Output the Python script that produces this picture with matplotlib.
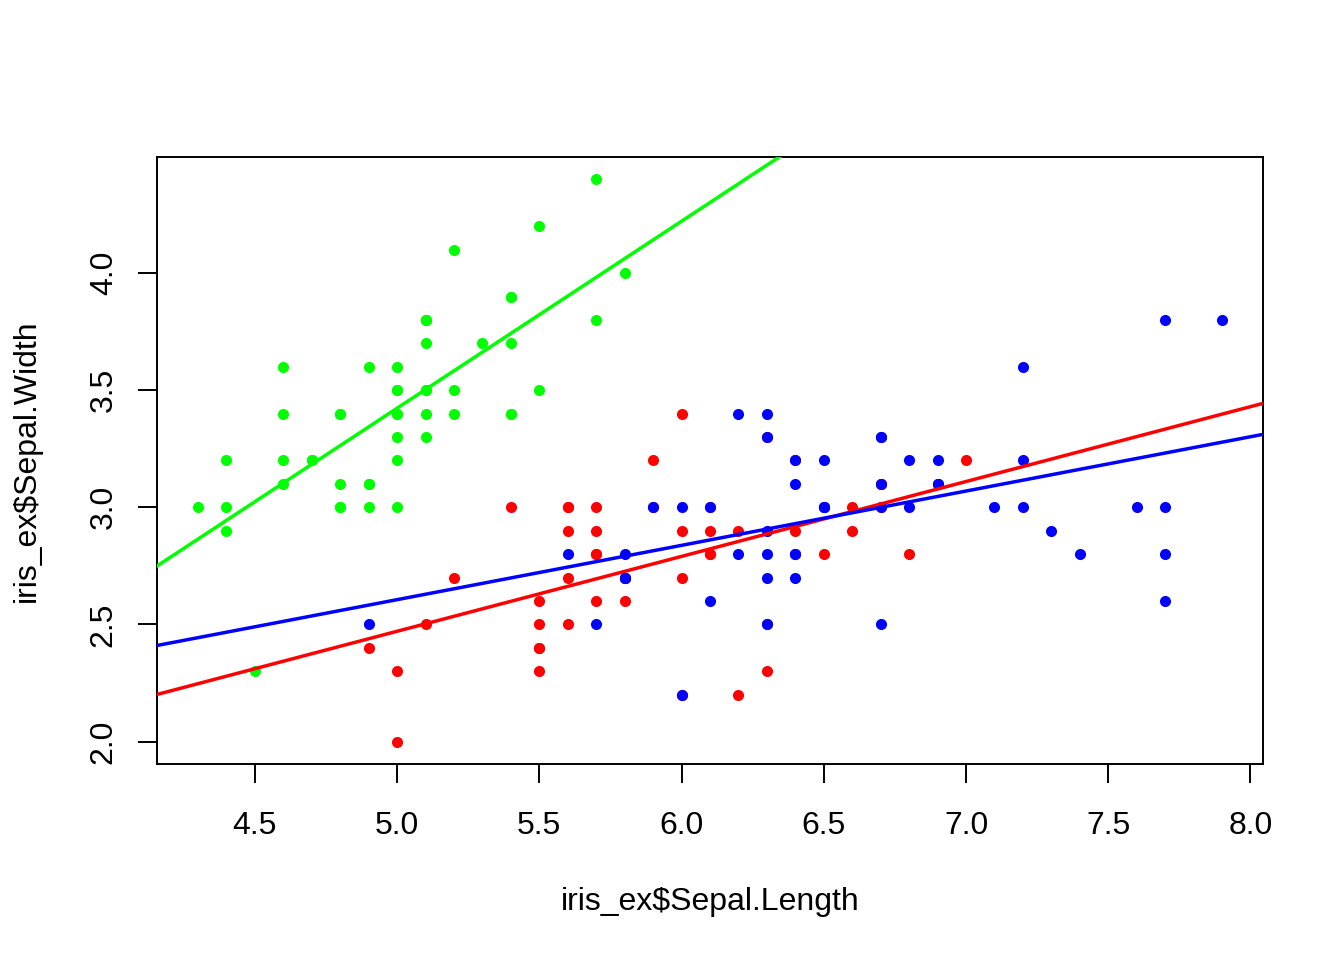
import numpy as np
import matplotlib
matplotlib.use("Agg")
import matplotlib.pyplot as plt

plt.rcParams['font.family'] = ['Liberation Sans', 'DejaVu Sans']

# iris_ex: Sepal.Length / Sepal.Width per species
setosa_len = [5.1, 4.9, 4.7, 4.6, 5.0, 5.4, 4.6, 5.0, 4.4, 4.9, 5.4, 4.8, 4.8, 4.3, 5.8, 5.7, 5.4,
              5.1, 5.7, 5.1, 5.4, 5.1, 4.6, 5.1, 4.8, 5.0, 5.0, 5.2, 5.2, 4.7, 4.8, 5.4, 5.2, 5.5,
              4.9, 5.0, 5.5, 4.9, 4.4, 5.1, 5.0, 4.5, 4.4, 5.0, 5.1, 4.8, 5.1, 4.6, 5.3, 5.0]
setosa_wid = [3.5, 3.0, 3.2, 3.1, 3.6, 3.9, 3.4, 3.4, 2.9, 3.1, 3.7, 3.4, 3.0, 3.0, 4.0, 4.4, 3.9,
              3.5, 3.8, 3.8, 3.4, 3.7, 3.6, 3.3, 3.4, 3.0, 3.4, 3.5, 3.4, 3.2, 3.1, 3.4, 4.1, 4.2,
              3.1, 3.2, 3.5, 3.6, 3.0, 3.4, 3.5, 2.3, 3.2, 3.5, 3.8, 3.0, 3.8, 3.2, 3.7, 3.3]
versicolor_len = [7.0, 6.4, 6.9, 5.5, 6.5, 5.7, 6.3, 4.9, 6.6, 5.2, 5.0, 5.9, 6.0, 6.1, 5.6, 6.7,
                  5.6, 5.8, 6.2, 5.6, 5.9, 6.1, 6.3, 6.1, 6.4, 6.6, 6.8, 6.7, 6.0, 5.7, 5.5, 5.5,
                  5.8, 6.0, 5.4, 6.0, 6.7, 6.3, 5.6, 5.5, 5.5, 6.1, 5.8, 5.0, 5.6, 5.7, 5.7, 6.2,
                  5.1, 5.7]
versicolor_wid = [3.2, 3.2, 3.1, 2.3, 2.8, 2.8, 3.3, 2.4, 2.9, 2.7, 2.0, 3.0, 2.2, 2.9, 2.9, 3.1,
                  3.0, 2.7, 2.2, 2.5, 3.2, 2.8, 2.5, 2.8, 2.9, 3.0, 2.8, 3.0, 2.9, 2.6, 2.4, 2.4,
                  2.7, 2.7, 3.0, 3.4, 3.1, 2.3, 3.0, 2.5, 2.6, 3.0, 2.6, 2.3, 2.7, 3.0, 2.9, 2.9,
                  2.5, 2.8]
virginica_len = [6.3, 5.8, 7.1, 6.3, 6.5, 7.6, 4.9, 7.3, 6.7, 7.2, 6.5, 6.4, 6.8, 5.7, 5.8, 6.4,
                 6.5, 7.7, 7.7, 6.0, 6.9, 5.6, 7.7, 6.3, 6.7, 7.2, 6.2, 6.1, 6.4, 7.2, 7.4, 7.9,
                 6.4, 6.3, 6.1, 7.7, 6.3, 6.4, 6.0, 6.9, 6.7, 6.9, 5.8, 6.8, 6.7, 6.7, 6.3, 6.5,
                 6.2, 5.9]
virginica_wid = [3.3, 2.7, 3.0, 2.9, 3.0, 3.0, 2.5, 2.9, 2.5, 3.6, 3.2, 2.7, 3.0, 2.5, 2.8, 3.2,
                 3.0, 3.8, 2.6, 2.2, 3.2, 2.8, 2.8, 2.7, 3.3, 3.2, 2.8, 3.0, 2.8, 3.0, 2.8, 3.8,
                 2.8, 2.8, 2.6, 3.0, 3.4, 3.1, 3.0, 3.1, 3.1, 3.1, 2.7, 3.2, 3.3, 3.0, 2.5, 3.0,
                 3.4, 3.0]

groups = [(setosa_len, setosa_wid, "#00FF00"),
          (versicolor_len, versicolor_wid, "#FF0000"),
          (virginica_len, virginica_wid, "#0000FF")]

fig = plt.figure(figsize=(13.44, 9.6), dpi=100)
ax = fig.add_axes([157/1344, 1 - 764/960, (1263 - 157)/1344, (764 - 157)/960])

all_x = np.concatenate([g[0] for g in groups])
all_y = np.concatenate([g[1] for g in groups])
xr = all_x.max() - all_x.min()
yr = all_y.max() - all_y.min()
xlim = (all_x.min() - 0.04*xr, all_x.max() + 0.04*xr)
ylim = (all_y.min() - 0.04*yr, all_y.max() + 0.04*yr)

for xs, ys, c in groups:
    ax.plot(xs, ys, 'o', color=c, markersize=8, markeredgewidth=0, zorder=2)

# abline(lm(width ~ length)) per species
xx = np.array(xlim)
for xs, ys, c in groups:
    slope, icpt = np.polyfit(xs, ys, 1)
    ax.plot(xx, icpt + slope*xx, color=c, linewidth=2.5, zorder=3)

ax.set_xlim(*xlim)
ax.set_ylim(*ylim)
ax.set_xticks(np.arange(4.5, 8.01, 0.5))
ax.set_xticklabels([f"{v:.1f}" for v in np.arange(4.5, 8.01, 0.5)])
ax.set_yticks(np.arange(2.0, 4.01, 0.5))
ax.set_yticklabels([f"{v:.1f}" for v in np.arange(2.0, 4.01, 0.5)], rotation=90, va='center')
ax.tick_params(axis='both', labelsize=23, length=13.5, width=1.4, direction='out', color='black')
ax.tick_params(axis='x', pad=20.5)
ax.tick_params(axis='y', pad=14)
for s in ax.spines.values():
    s.set_linewidth(1.4)

ax.set_xlabel("iris_ex$Sepal.Length", fontsize=23, labelpad=33)
ax.set_ylabel("iris_ex$Sepal.Width", fontsize=23, labelpad=34)

fig.savefig("out.png", dpi=100)
